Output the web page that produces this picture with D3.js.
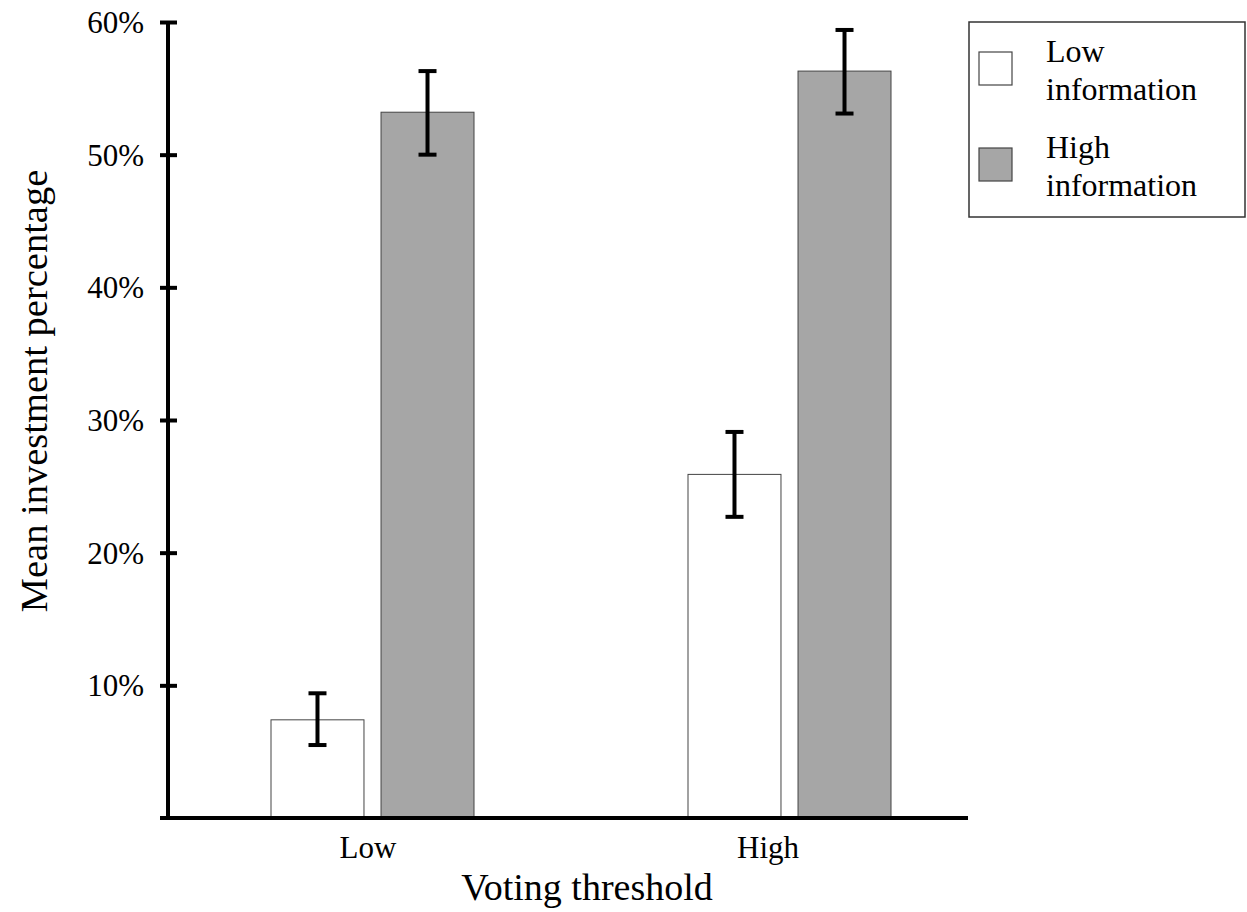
<!DOCTYPE html>
<html>
<head>
<meta charset="utf-8">
<script src="https://cdn.jsdelivr.net/npm/d3@7"></script>
<style>
  body { margin: 0; background: #fff; }
  text { font-family: "Liberation Serif", "Times New Roman", serif; fill: #000; }
</style>
</head>
<body>
<div id="chart"></div>
<script>
// data (percent)
let thresholds = ['Low', 'High'];
let series = ['Low information', 'High information'];
let means = [[7.4, 53.2], [25.9, 56.3]];
let errLow = [[5.5, 50.0], [22.7, 53.1]];
let errHigh = [[9.4, 56.3], [29.1, 59.4]];
let yTicks = [10, 20, 30, 40, 50, 60];

let fills = ['#ffffff', '#a6a6a6'];

function draw_chart() {
    let width = 1247, height = 912;
    let svg = d3.select('#chart').append('svg')
        .attr('width', width)
        .attr('height', height);

    let y = d3.scaleLinear().domain([0, 60]).range([818, 22]);
    // labels sit on the band centres, the bar groups are a bit right of them
    let xLabel = d3.scaleBand().domain(thresholds).range([168, 968]);
    let xGroup = d3.scaleBand().domain(thresholds).range([164, 998]);
    let xInner = d3.scaleBand().domain(series).range([0, 203]).paddingInner(0.155);

    let rows = [];
    thresholds.forEach((t, i) => {
        series.forEach((s, j) => {
            rows.push({t: t, s: s, j: j, v: means[i][j], lo: errLow[i][j], hi: errHigh[i][j]});
        });
    });

    let g = svg.append('g');
    g.selectAll('rect.bar')
        .data(rows)
        .enter()
        .append('rect')
        .attr('class', 'bar')
        .attr('x', d => xGroup(d.t) + xGroup.bandwidth() / 2 - 101.5 + xInner(d.s))
        .attr('width', xInner.bandwidth())
        .attr('y', d => y(d.v))
        .attr('height', d => y(0) - y(d.v))
        .attr('fill', d => fills[d.j])
        .attr('stroke', '#444')
        .attr('stroke-width', 1);

    // error bars
    let cx = d => xGroup(d.t) + xGroup.bandwidth() / 2 - 101.5 + xInner(d.s) + xInner.bandwidth() / 2;
    let eb = g.selectAll('g.err').data(rows).enter().append('g').attr('class', 'err')
        .attr('stroke', '#000').attr('stroke-width', 4);
    eb.append('line').attr('x1', cx).attr('x2', cx).attr('y1', d => y(d.lo)).attr('y2', d => y(d.hi));
    eb.append('line').attr('x1', d => cx(d) - 9).attr('x2', d => cx(d) + 9).attr('y1', d => y(d.lo)).attr('y2', d => y(d.lo));
    eb.append('line').attr('x1', d => cx(d) - 9).attr('x2', d => cx(d) + 9).attr('y1', d => y(d.hi)).attr('y2', d => y(d.hi));

    // y axis
    let yAxis = d3.axisLeft(y).tickValues(yTicks).tickFormat(d => d + '%').tickSize(8);
    let ya = svg.append('g').attr('transform', 'translate(168,0)').call(yAxis);
    ya.select('.domain').remove();
    ya.append('line').attr('x1', 0).attr('x2', 0).attr('y1', y(60)).attr('y2', y(0) + 2)
        .attr('stroke', '#000').attr('stroke-width', 4);
    ya.selectAll('.tick line').attr('x1', -8).attr('x2', 9).attr('stroke', '#000').attr('stroke-width', 4);
    ya.selectAll('.tick text').attr('x', -24).attr('dy', '0.34em')
        .style('font-size', '31px').style('font-family', '"Liberation Serif", serif');

    // x axis
    let xAxis = d3.axisBottom(xLabel).tickSize(0);
    let xa = svg.append('g').attr('transform', 'translate(0,818)').call(xAxis);
    xa.select('.domain').remove();
    xa.append('line').attr('x1', 160).attr('x2', 968).attr('y1', 0).attr('y2', 0)
        .attr('stroke', '#000').attr('stroke-width', 4);
    xa.selectAll('.tick text').attr('y', 40).attr('dy', 0)
        .style('font-size', '31px').style('font-family', '"Liberation Serif", serif');

    // titles
    svg.append('text')
        .attr('x', 587).attr('y', 900)
        .attr('text-anchor', 'middle')
        .style('font-size', '38px')
        .text('Voting threshold');
    svg.append('text')
        .attr('transform', 'translate(47,391) rotate(-90)')
        .attr('text-anchor', 'middle')
        .style('font-size', '38.5px')
        .text('Mean investment percentage');

    // legend
    let legend = svg.append('g');
    legend.append('rect')
        .attr('x', 969).attr('y', 22).attr('width', 276).attr('height', 195)
        .attr('fill', '#fff').attr('stroke', '#333').attr('stroke-width', 1.5);
    let items = legend.selectAll('g.item').data(series).enter().append('g')
        .attr('class', 'item')
        .attr('transform', (d, i) => 'translate(0,' + (i * 96) + ')');
    items.append('rect')
        .attr('x', 979).attr('y', 52).attr('width', 33).attr('height', 33)
        .attr('fill', (d, i) => fills[i]).attr('stroke', '#444').attr('stroke-width', 1.2);
    items.each(function(d) {
        let words = d.split(' ');
        d3.select(this).append('text')
            .attr('x', 1046).attr('y', 62)
            .style('font-size', '32px')
            .text(words[0]);
        d3.select(this).append('text')
            .attr('x', 1046).attr('y', 100)
            .style('font-size', '32px')
            .text(words[1]);
    });
}

draw_chart();
</script>
</body>
</html>
